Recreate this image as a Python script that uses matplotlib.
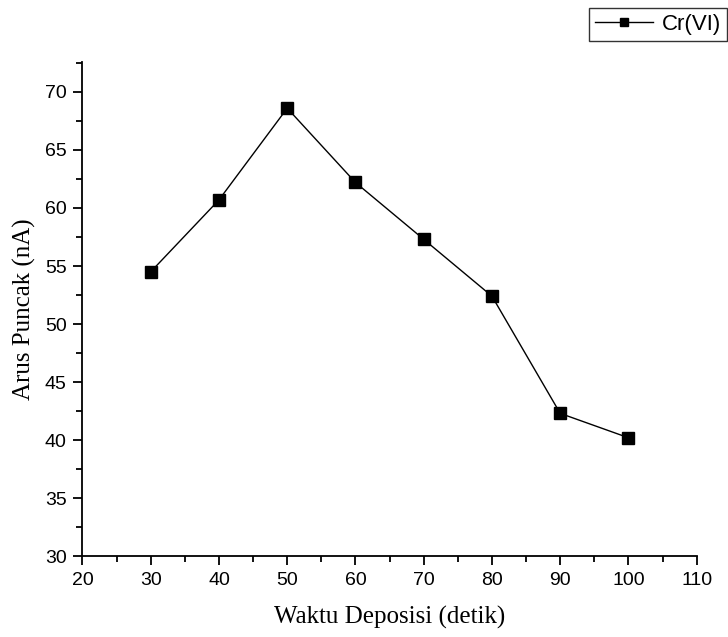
import matplotlib
matplotlib.use("Agg")
import matplotlib.pyplot as plt
from matplotlib.ticker import MultipleLocator

waktu = [30, 40, 50, 60, 70, 80, 90, 100]
arus = [54.5, 60.7, 68.6, 62.2, 57.3, 52.4, 42.3, 40.2]
series_label = "Cr(VI)"
xlabel = "Waktu Deposisi (detik)"
ylabel = "Arus Puncak (nA)"

fig = plt.figure(figsize=(7.28, 6.37), dpi=100)
ax = fig.add_axes([0.1133, 0.127, 0.957 - 0.1133, 0.903 - 0.127])

line, = ax.plot(waktu, arus, color="black", linewidth=1.0, marker="s",
                markersize=8, markerfacecolor="black", markeredgecolor="black",
                label=series_label)

ax.set_xlim(20, 110)
ax.set_ylim(30, 72.6)
ax.xaxis.set_major_locator(MultipleLocator(10))
ax.xaxis.set_minor_locator(MultipleLocator(5))
ax.yaxis.set_major_locator(MultipleLocator(5))
ax.yaxis.set_minor_locator(MultipleLocator(2.5))

for s in ["top", "right"]:
    ax.spines[s].set_visible(False)
for s in ["left", "bottom"]:
    ax.spines[s].set_linewidth(1.3)

ax.tick_params(which="major", direction="out", length=6.5, width=1.3,
               labelsize=14)
ax.tick_params(axis="x", which="major", pad=5)
ax.tick_params(axis="y", which="major", pad=5)
ax.tick_params(which="minor", direction="out", length=4, width=1.3)
for lbl in ax.get_xticklabels() + ax.get_yticklabels():
    lbl.set_fontfamily("Liberation Sans")

ax.set_xlabel(xlabel, fontfamily="Liberation Serif", fontsize=18, labelpad=12)
ax.set_ylabel(ylabel, fontfamily="Liberation Serif", fontsize=18, labelpad=6)

leg = fig.legend(handles=[line], loc="upper right",
                 bbox_to_anchor=(0.999, 0.988), bbox_transform=fig.transFigure,
                 numpoints=1, markerscale=0.75, handlelength=2.6,
                 handletextpad=0.4, borderpad=0.28, borderaxespad=0,
                 fancybox=False, frameon=True,
                 prop={"family": "Liberation Sans", "size": 16})
leg.get_frame().set_edgecolor("black")
leg.get_frame().set_linewidth(1.0)

fig.savefig("out.png", dpi=100)
